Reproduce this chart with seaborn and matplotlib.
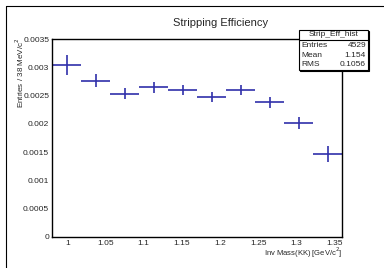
import numpy as np
import matplotlib
matplotlib.use("Agg")
import matplotlib.pyplot as plt
import seaborn as sns
from matplotlib.lines import Line2D
from matplotlib.patches import Rectangle
from matplotlib.ticker import MultipleLocator, FuncFormatter

# histogram content (bin centres, half width 0.019 GeV)
bin_centers = [0.999, 1.037, 1.075, 1.113, 1.151, 1.189, 1.227, 1.265, 1.303, 1.341]
bin_values = [0.003044, 0.002766, 0.002535, 0.002649, 0.002601,
              0.002472, 0.002601, 0.002388, 0.002021, 0.001472]
bin_errors = [0.000177, 0.000115, 0.0000975, 0.000094, 0.000094,
              0.000092, 0.000094, 0.0000975, 0.000103, 0.000142]
bin_halfwidth = 0.019

stats_labels = ["Entries", "Mean", "RMS"]
stats_values = ["4529", "1.154", "0.1056"]

sns.set_style("white")
plt.rcParams["font.family"] = ["Liberation Sans", "DejaVu Sans"]

W, H = 384, 268
fig = plt.figure(figsize=(W / 100, H / 100), dpi=100)
ax = fig.add_axes([52 / W, 1 - 236.7 / H, (342.3 - 52) / W, (236.7 - 39.3) / H])

ax.errorbar(bin_centers, bin_values, xerr=bin_halfwidth, yerr=bin_errors,
            fmt="none", ecolor="#3030aa", elinewidth=1.2, capsize=0)

ax.set_xlim(0.98, 1.36)
ax.set_ylim(0, 0.0035)
ax.xaxis.set_major_locator(MultipleLocator(0.05))
ax.xaxis.set_minor_locator(MultipleLocator(0.01))
ax.yaxis.set_major_locator(MultipleLocator(0.0005))
ax.yaxis.set_minor_locator(MultipleLocator(0.0001))
fmt = FuncFormatter(lambda v, p: "%g" % round(v, 6))
ax.xaxis.set_major_formatter(fmt)
ax.yaxis.set_major_formatter(fmt)
ax.tick_params(axis="x", which="major", direction="in", length=4.5, width=1,
               labelsize=6, pad=2.5, top=False)
ax.tick_params(axis="x", which="minor", direction="in", length=2.2, width=0.8, top=False)
ax.tick_params(axis="y", which="major", direction="in", length=5.5, width=1,
               labelsize=6, pad=2, right=False)
ax.tick_params(axis="y", which="minor", direction="in", length=3, width=0.8, right=False)
for s in ax.spines.values():
    s.set_linewidth(1.0)
    s.set_color("black")

fig.text(221 / W, 1 - 23 / H, "Stripping Efficiency", ha="center", va="center", fontsize=8)
fig.text(19.5 / W, 1 - 38 / H, "Entries / 38 MeV/c$^2$", rotation=90,
         ha="center", va="top", fontsize=5.8)
fig.text(342 / W, 1 - 253 / H, "Inv Mass(KK) [GeV/c$^2$]", ha="right", va="center", fontsize=5.5)

# outer canvas frame
fig.add_artist(Line2D([6 / W, 6 / W], [0, 1 - 6 / H], color="black", lw=0.8))
fig.add_artist(Line2D([6 / W, 1], [1 - 6 / H, 1 - 6 / H], color="black", lw=0.8))

# stats box
bx0, bx1, by0, by1 = 299, 368, 30, 70
fig.add_artist(Rectangle((bx0 / W + 1.2 / W, 1 - by1 / H - 1.2 / H), (bx1 - bx0) / W, (by1 - by0) / H,
                         facecolor="black", edgecolor="black", lw=0.8))
fig.add_artist(Rectangle((bx0 / W, 1 - by1 / H), (bx1 - bx0) / W, (by1 - by0) / H,
                         facecolor="white", edgecolor="black", lw=0.8))
fig.add_artist(Line2D([bx0 / W, bx1 / W], [1 - 39.7 / H, 1 - 39.7 / H], color="black", lw=0.8))
fig.text((bx0 + bx1) / 2 / W, 1 - 35 / H, "Strip_Eff_hist", ha="center", va="center", fontsize=6)
for i, (lab, val) in enumerate(zip(stats_labels, stats_values)):
    y = 1 - (46 + 9.5 * i) / H
    fig.text((bx0 + 2) / W, y, lab, ha="left", va="center", fontsize=6)
    fig.text((bx1 - 2) / W, y, val, ha="right", va="center", fontsize=6)

fig.savefig("out.png", dpi=100)
